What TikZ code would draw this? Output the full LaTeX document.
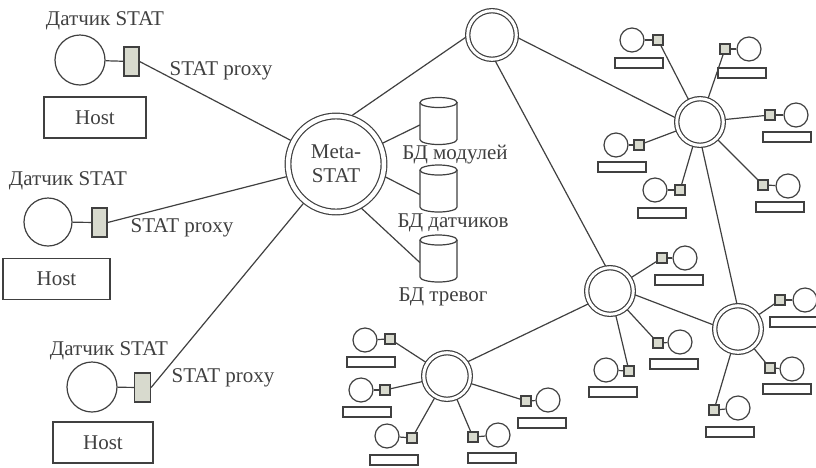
\documentclass[tikz,border=0pt]{standalone}
\usepackage{fontspec}
\setmainfont{Liberation Serif}
\usetikzlibrary{backgrounds,calc}
\definecolor{ink}{HTML}{404040}
\definecolor{proxyfill}{RGB}{216,218,206}

% satellite agent: circle, proxy square, empty host tag, linked to a hub
\newcommand\mksat[5]{%
  \node[sc] (#1c) at (#3) {};
  \node[sq] (#1s) at (#4) {};
  \node[tag] (#1t) at (#5) {};
  \begin{scope}[on background layer]
    \draw[link] (#1c) -- (#1s);
    \draw[link] (#1s) -- (#2);
  \end{scope}}

% database cylinder with a named box for connectors
\newcommand\mkcyl[2]{%
  \node[minimum width=37, minimum height=47, inner sep=0] (#1) at (#2) {};
  \begin{scope}[shift={(#2)}]
    \draw[link, fill=white] (-18.5,-18.5) -- (-18.5,18.5)
      arc[start angle=180, end angle=0, x radius=18.5, y radius=5] -- (18.5,-18.5);
    \draw[link, fill=white] (0,-18.5) ellipse[x radius=18.5, y radius=5];
  \end{scope}}

\begin{document}
\begin{tikzpicture}[x=1pt, y=-1pt,
  link/.style={draw=ink, line width=1.2pt},
  lbl/.style={text=ink, font=\fontsize{21}{23}\selectfont, inner sep=0},
  sensor/.style={circle, draw=ink, line width=1.2pt, fill=white, inner sep=0},
  proxy/.style={rectangle, draw=ink, line width=1.2pt, fill=proxyfill, minimum height=29, inner sep=0},
  hostbox/.style={rectangle, draw=ink, line width=1.2pt, minimum height=41, inner sep=0, text=ink, font=\fontsize{21}{23}\selectfont},
  hub/.style={circle, draw=ink, line width=1.2pt, double=white, double distance=3pt, fill=white, inner sep=0, minimum size=46.6},
  sc/.style={circle, draw=ink, line width=1.2pt, fill=white, minimum size=24, inner sep=0},
  sq/.style={rectangle, draw=ink, line width=1.2pt, fill=proxyfill, minimum size=10, inner sep=0},
  tag/.style={rectangle, draw=ink, line width=1.2pt, fill=white, minimum width=48, minimum height=10, inner sep=0}]

\useasboundingbox (0,0) rectangle (816,467);

% ---- central Meta-STAT server and upper relay
\node[hub, double distance=4.5pt, minimum size=96, align=center, text=ink,
      font=\fontsize{21}{24}\selectfont] (meta) at (336,164) {Meta-\\STAT};
\node[hub, minimum size=48.6] (top) at (492,35) {};

% ---- relay hubs
\node[hub] (h1) at (700,122) {};
\node[hub] (h2) at (610,291) {};
\node[hub] (h3) at (738,329) {};
\node[hub] (h4) at (447,376) {};

% ---- left-hand sensors with their STAT proxies and hosts
\node[lbl] (l1) at (105,21) {Датчик STAT};
\node[sensor, minimum size=50] (s1) at (80,60) {};
\node[proxy, minimum width=15] (p1) at (131.5,61.5) {};
\node[lbl] (x1) at (221,71) {STAT proxy};
\node[hostbox, minimum width=102] (b1) at (95,117.5) {Host};

\node[lbl] (l2) at (68,181) {Датчик STAT};
\node[sensor, minimum size=48] (s2) at (48,222) {};
\node[proxy, minimum width=15] (p2) at (99.5,222.5) {};
\node[lbl] (x2) at (182,228) {STAT proxy};
\node[hostbox, minimum width=107] (b2) at (56.5,279) {Host};

\node[lbl] (l3) at (109,351) {Датчик STAT};
\node[sensor, minimum size=50] (s3) at (92,387) {};
\node[proxy, minimum width=16] (p3) at (142.5,387.5) {};
\node[lbl] (x3) at (223,378) {STAT proxy};
\node[hostbox, minimum width=100] (b3) at (103,442.5) {Host};

% ---- databases
\mkcyl{cyl1}{438.5,121}
\mkcyl{cyl2}{438.5,188.5}
\mkcyl{cyl3}{438.5,258.5}
\node[lbl] (d1) at (455,155) {БД модулей};
\node[lbl] (d2) at (453,223) {БД датчиков};
\node[lbl] (d3) at (443,297) {БД тревог};

% ---- backbone links
\begin{scope}[on background layer]
  \draw[link] (s1) -- (p1);
  \draw[link] (s2) -- (p2);
  \draw[link] (s3) -- (p3);
  \draw[link] (p1.east) -- (meta);
  \draw[link] (p2.east) -- (meta);
  \draw[link] (p3.east) -- (meta);
  \draw[link] (meta.74) -- (top.183);
  \draw[link] (meta.24) -- ($(cyl1.west)+(0,4)$);
  \draw[link] (meta.-14) -- ($(cyl2.west)+(0,6)$);
  \draw[link] (meta.-61) -- ($(cyl3.west)+(0,4)$);
  \draw[link] (top.-5) -- (h1.171);
  \draw[link] (top.-84) -- (h2.99);
  \draw[link] (h1.-86) -- (h3.92);
  \draw[link] (h2.-8) -- (h3.171);
  \draw[link] (h2.211) -- (h4.35);
\end{scope}

% ---- agents around hub 1
\mksat{h1a}{h1}{632,40}{658,40}{639,63}
\mksat{h1b}{h1}{749,49}{725,49}{742,73}
\mksat{h1c}{h1}{796,115}{770,115}{787,137}
\mksat{h1d}{h1}{616,145}{639,145}{622,167}
\mksat{h1e}{h1}{655,190}{680,190}{662,213}
\mksat{h1f}{h1}{788,186}{763,185}{780,207}

% ---- agents around hub 2
\mksat{h2a}{h2}{685,258}{662,258}{679,280}
\mksat{h2b}{h2}{680,342}{658,343}{674,364}
\mksat{h2c}{h2}{606,370}{629,371}{613,392}

% ---- agents around hub 3
\mksat{h3a}{h3}{805,300}{780,300}{794,322}
\mksat{h3b}{h3}{792,369}{770,368}{787,389}
\mksat{h3c}{h3}{738,408}{714,410}{730,432}

% ---- agents around hub 4
\mksat{h4a}{h4}{365,340}{390,339}{371,362}
\mksat{h4b}{h4}{361,390}{385,390}{367,412}
\mksat{h4c}{h4}{387,436}{412,438}{394,460}
\mksat{h4d}{h4}{498,435}{473,437}{492,458}
\mksat{h4e}{h4}{548,400}{526,401}{542,423}

\end{tikzpicture}
\end{document}
